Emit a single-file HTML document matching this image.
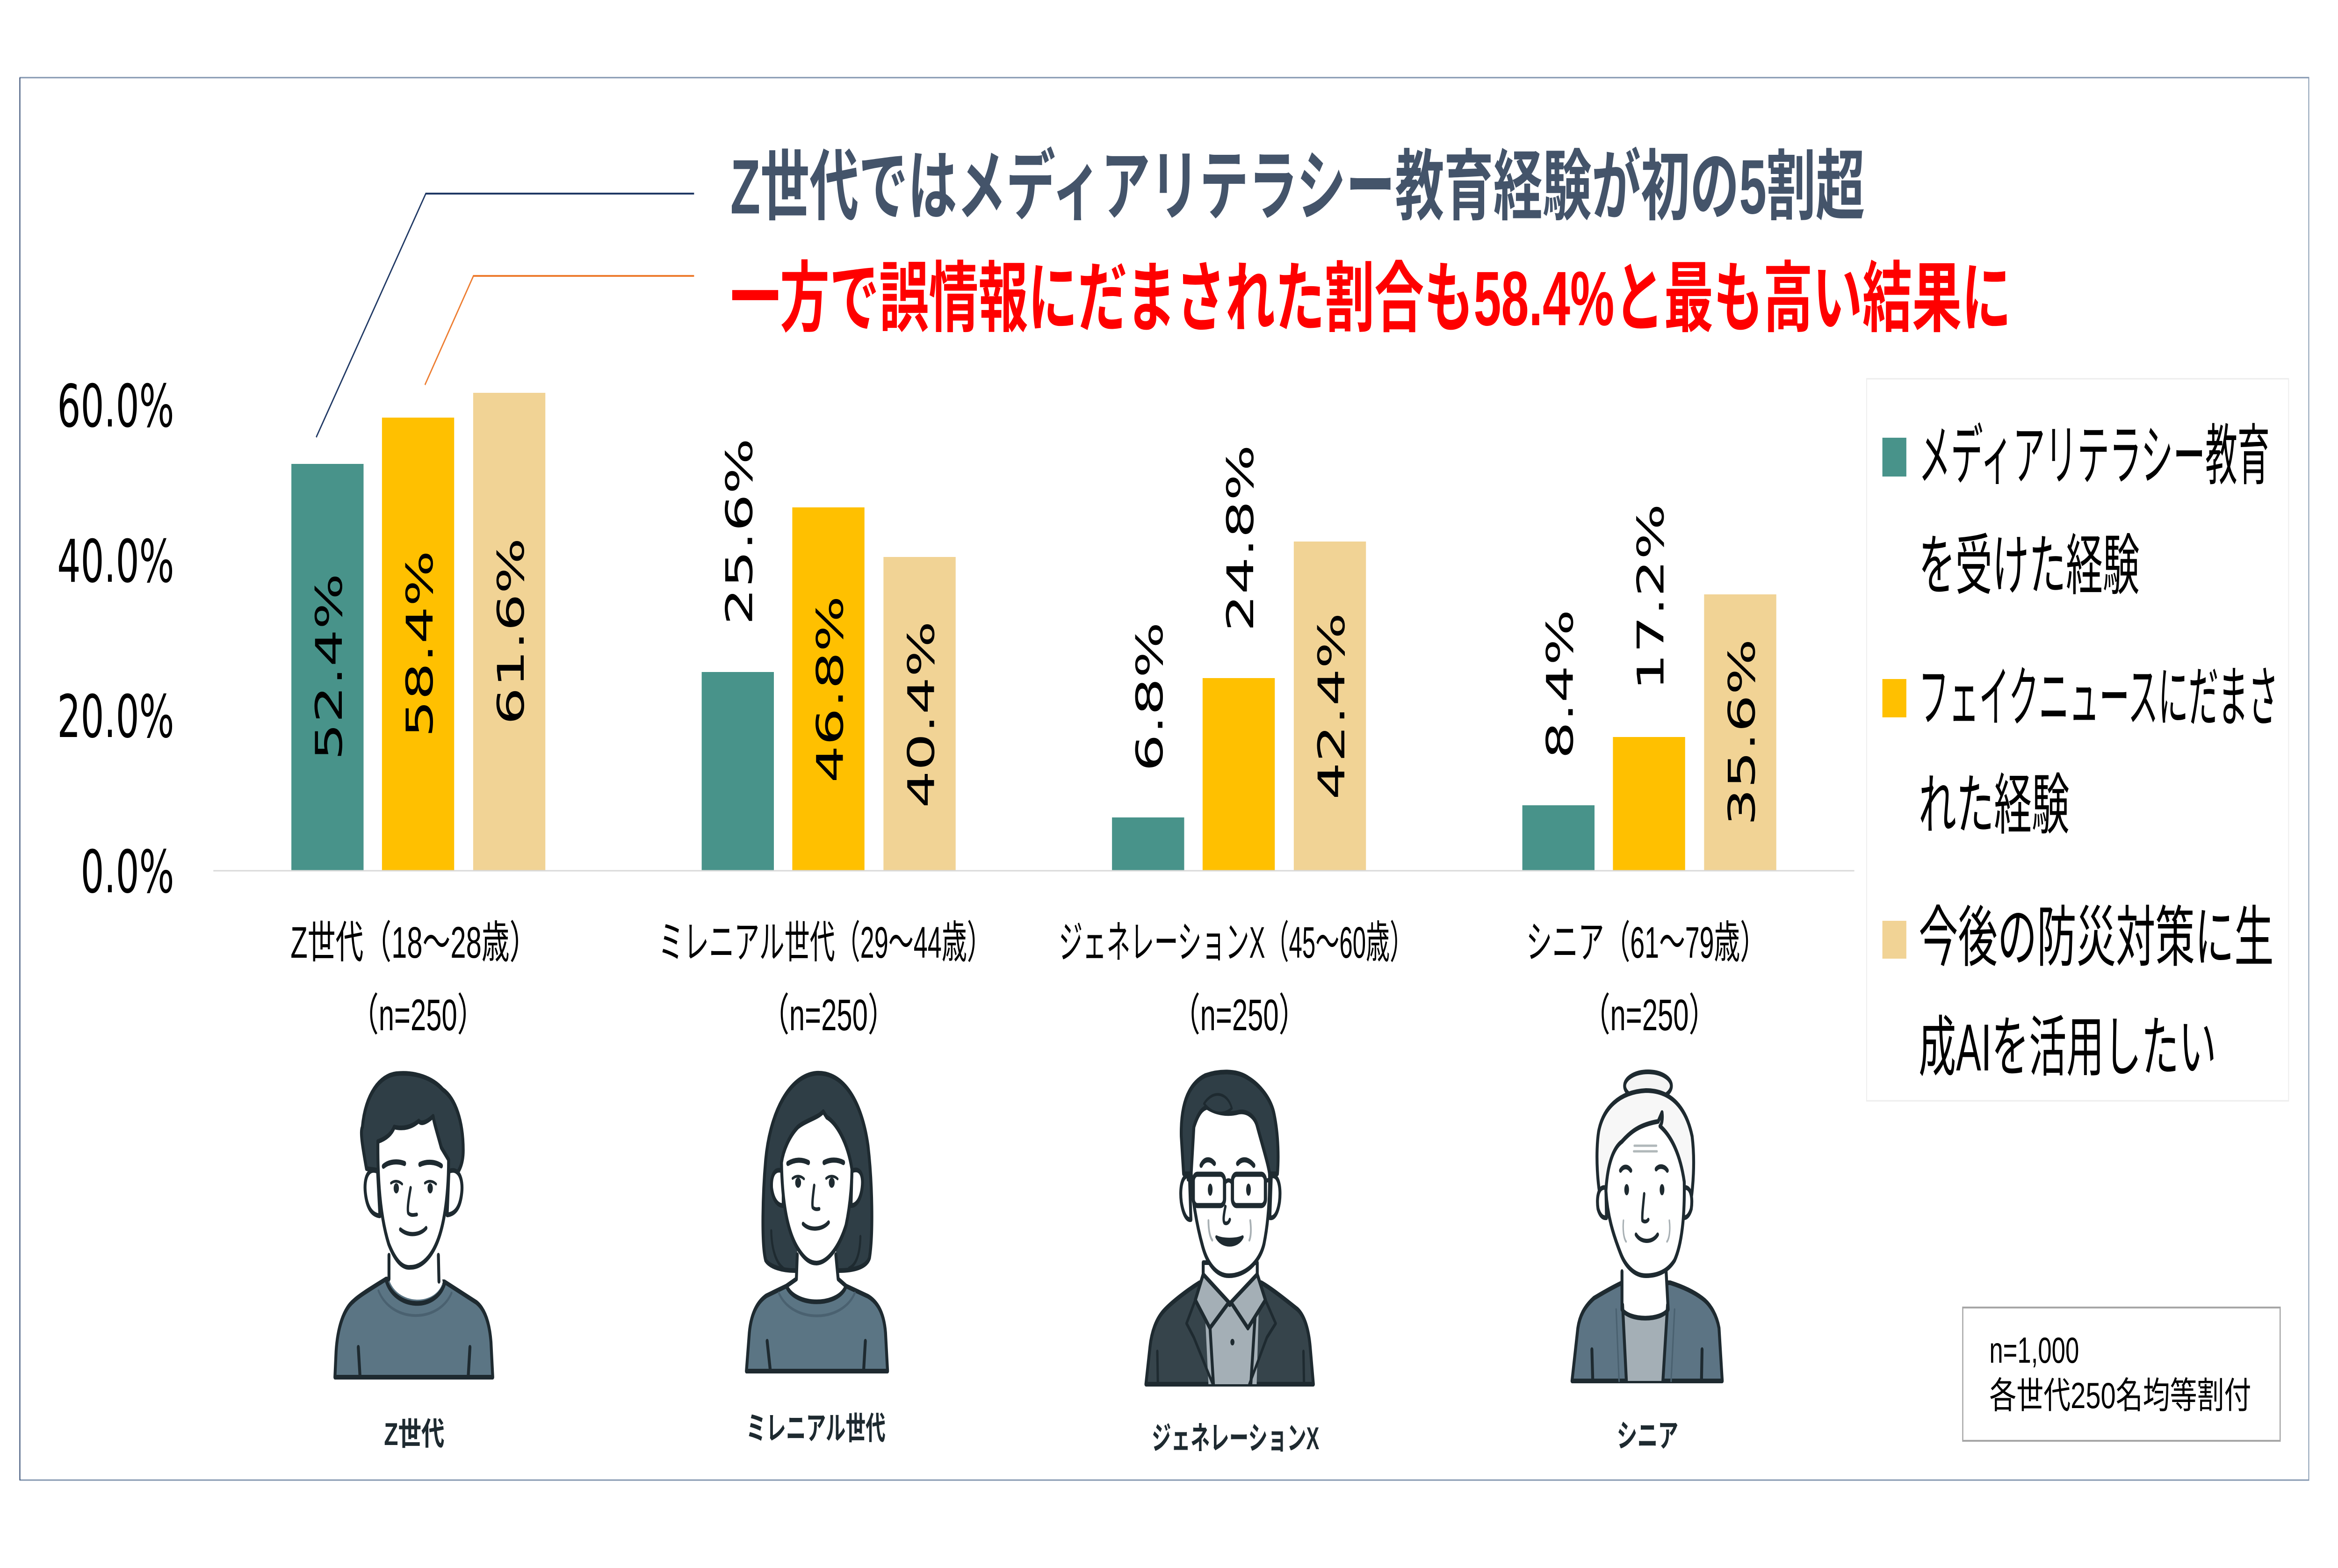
<!DOCTYPE html>
<html><head><meta charset="utf-8"><style>
html,body{margin:0;padding:0;background:#fff;width:100%;height:100%;overflow:hidden;}
svg{display:block;width:100vw;height:100vh;}
.jp{font-family:"Liberation Sans","Noto Sans CJK JP",sans-serif;}
.num{font-family:"DejaVu Sans","Liberation Sans",sans-serif;}
.ln{stroke:#1E2A30;stroke-width:10;stroke-linecap:round;stroke-linejoin:round;}
</style></head><body>
<svg viewBox="0 0 8000 3353" preserveAspectRatio="none" xmlns="http://www.w3.org/2000/svg">
<rect x="0" y="0" width="8000" height="3353" fill="#fff"/>
<!-- frame -->
<rect x="68" y="166" width="7832" height="2999" fill="none" stroke="#8497B0" stroke-width="3"/>
<line x1="68" y1="166" x2="68" y2="3165" stroke="#1F3864" stroke-width="3"/>

<!-- titles -->
<text class="jp" x="2499" y="400" font-size="165" font-weight="bold" fill="#44546A" dominant-baseline="central" textLength="3882" lengthAdjust="spacingAndGlyphs">Z世代ではメディアリテラシー教育経験が初の5割超</text>
<text class="jp" x="2499" y="639" font-size="165" font-weight="bold" fill="#FF0000" dominant-baseline="central" textLength="4383" lengthAdjust="spacingAndGlyphs">一方で誤情報にだまされた割合も58.4%と最も高い結果に</text>

<!-- leader lines -->
<polyline points="1082,935 1457,414 2375,414" fill="none" stroke="#1F3864" stroke-width="4"/>
<polyline points="1454,823 1620,590 2375,590" fill="none" stroke="#ED7D31" stroke-width="4"/>

<!-- y axis labels -->
<g class="num" font-size="126" fill="#000" text-anchor="end" dominant-baseline="central">
<text x="596" y="868">60.0%</text>
<text x="596" y="1200">40.0%</text>
<text x="596" y="1532">20.0%</text>
<text x="596" y="1864">0.0%</text>
</g>

<!-- bars -->
<g>
<rect x="997" y="992" width="247" height="869" fill="#48938A"/>
<rect x="1307" y="893" width="247" height="968" fill="#FFC000"/>
<rect x="1619" y="840" width="247" height="1021" fill="#F1D395"/>
<rect x="2401" y="1437" width="247" height="424" fill="#48938A"/>
<rect x="2711" y="1085" width="247" height="776" fill="#FFC000"/>
<rect x="3023" y="1191" width="247" height="670" fill="#F1D395"/>
<rect x="3805" y="1748" width="247" height="113" fill="#48938A"/>
<rect x="4115" y="1450" width="247" height="411" fill="#FFC000"/>
<rect x="4427" y="1158" width="247" height="703" fill="#F1D395"/>
<rect x="5209" y="1722" width="247" height="139" fill="#48938A"/>
<rect x="5519" y="1576" width="247" height="285" fill="#FFC000"/>
<rect x="5831" y="1271" width="247" height="590" fill="#F1D395"/>
</g>
<line x1="730" y1="1862" x2="6345" y2="1862" stroke="#D9D9D9" stroke-width="3"/>

<!-- value labels -->
<g class="num" font-size="126" fill="#000" dominant-baseline="central">
<text text-anchor="middle" transform="translate(1126,1426) rotate(-90)">52.4%</text>
<text text-anchor="middle" transform="translate(1436,1377) rotate(-90)">58.4%</text>
<text text-anchor="middle" transform="translate(1748,1350) rotate(-90)">61.6%</text>
<text text-anchor="start" transform="translate(2530,1337) rotate(-90)">25.6%</text>
<text text-anchor="middle" transform="translate(2840,1474) rotate(-90)">46.8%</text>
<text text-anchor="middle" transform="translate(3152,1528) rotate(-90)">40.4%</text>
<text text-anchor="start" transform="translate(3934,1650) rotate(-90)">6.8%</text>
<text text-anchor="start" transform="translate(4244,1351) rotate(-90)">24.8%</text>
<text text-anchor="middle" transform="translate(4556,1510) rotate(-90)">42.4%</text>
<text text-anchor="start" transform="translate(5338,1623) rotate(-90)">8.4%</text>
<text text-anchor="start" transform="translate(5648,1477) rotate(-90)">17.2%</text>
<text text-anchor="middle" transform="translate(5960,1566) rotate(-90)">35.6%</text>
</g>

<!-- category labels -->
<g class="jp" font-size="95" fill="#000" dominant-baseline="central">
<text x="994" y="2015" textLength="845" lengthAdjust="spacingAndGlyphs">Z世代（18～28歳）</text>
<text x="2253" y="2015" textLength="1142" lengthAdjust="spacingAndGlyphs">ミレニアル世代（29～44歳）</text>
<text x="3623" y="2015" textLength="1214" lengthAdjust="spacingAndGlyphs">ジェネレーションX（45～60歳）</text>
<text x="5222" y="2015" textLength="821" lengthAdjust="spacingAndGlyphs">シニア（61～79歳）</text>
<text x="1430" y="2170" text-anchor="middle" textLength="460" lengthAdjust="spacingAndGlyphs">（n=250）</text>
<text x="2835" y="2170" text-anchor="middle" textLength="460" lengthAdjust="spacingAndGlyphs">（n=250）</text>
<text x="4241" y="2170" text-anchor="middle" textLength="460" lengthAdjust="spacingAndGlyphs">（n=250）</text>
<text x="5644" y="2170" text-anchor="middle" textLength="460" lengthAdjust="spacingAndGlyphs">（n=250）</text>
</g>

<!-- legend -->
<rect x="6387" y="810" width="1444" height="1544" fill="#fff" stroke="#EDEDED" stroke-width="3"/>
<rect x="6441" y="936" width="82" height="83" fill="#48938A"/>
<rect x="6441" y="1452" width="82" height="82" fill="#FFC000"/>
<rect x="6441" y="1969" width="82" height="81" fill="#F1D395"/>
<g class="jp" font-size="142" fill="#000" dominant-baseline="central">
<text x="6565" y="976" textLength="1201" lengthAdjust="spacingAndGlyphs">メディアリテラシー教育</text>
<text x="6565" y="1211" textLength="756" lengthAdjust="spacingAndGlyphs">を受けた経験</text>
<text x="6565" y="1493" textLength="1231" lengthAdjust="spacingAndGlyphs">フェイクニュースにだまさ</text>
<text x="6565" y="1723" textLength="516" lengthAdjust="spacingAndGlyphs">れた経験</text>
<text x="6565" y="2006" textLength="1215" lengthAdjust="spacingAndGlyphs">今後の防災対策に生</text>
<text x="6565" y="2241" textLength="1019" lengthAdjust="spacingAndGlyphs">成AIを活用したい</text>
</g>

<!-- note box -->
<rect x="6716" y="2796" width="1086" height="285" fill="#fff" stroke="#A6A6A6" stroke-width="4"/>
<g class="jp" font-size="78" fill="#000" dominant-baseline="central">
<text x="6807" y="2887" textLength="307" lengthAdjust="spacingAndGlyphs">n=1,000</text>
<text x="6807" y="2984" textLength="896" lengthAdjust="spacingAndGlyphs">各世代250名均等割付</text>
</g>

<!-- Person 1: Z generation -->
<g class="ln">
<path d="M1321,2735 C1270,2755 1230,2770 1210,2782 C1175,2800 1155,2840 1150,2890 L1146,2945 L1686,2945 L1680,2870 C1675,2830 1660,2800 1630,2785 L1521,2741 Z" fill="#5B7584"/>
<path d="M1331,2680 L1331,2735 C1355,2790 1490,2795 1515,2742 L1500,2680 Z" fill="#fff" stroke="none"/>
<path d="M1295,2760 C1340,2830 1500,2830 1545,2765" fill="none" stroke="#4A6170" stroke-width="6"/>
<path d="M1321,2737 C1350,2800 1490,2805 1521,2745" fill="none"/>
<path d="M1331,2684 L1331,2735 M1500,2684 L1502,2740 M1226,2881 L1232,2945 M1608,2881 L1602,2945" fill="none"/>
<path d="M1254,2499 C1240,2450 1232,2420 1240,2410 C1250,2340 1300,2300 1356,2296 C1420,2292 1480,2305 1515,2330 C1560,2350 1585,2400 1585,2460 C1585,2490 1570,2510 1540,2524 Z" fill="#2F3E46"/>
<path d="M1292,2505 C1260,2495 1245,2520 1250,2550 C1255,2580 1270,2598 1300,2600 Z" fill="#fff"/>
<path d="M1536,2505 C1568,2495 1585,2520 1580,2550 C1575,2580 1560,2596 1530,2598 Z" fill="#fff"/>
<path d="M1293,2441 C1292,2520 1300,2600 1330,2660 C1355,2700 1380,2712 1405,2710 C1440,2710 1480,2690 1505,2640 C1525,2600 1535,2540 1535,2480 L1510,2454 C1495,2420 1485,2400 1482,2387 C1460,2400 1440,2405 1433,2397 C1410,2410 1380,2415 1349,2410 C1340,2425 1320,2435 1293,2441 Z" fill="#fff"/>
<path d="M1312,2494 C1330,2484 1360,2482 1384,2488 M1437,2490 C1460,2483 1490,2484 1510,2493" fill="none" stroke-width="11"/>
<ellipse cx="1356" cy="2541" rx="9" ry="11" fill="#1E2A30" stroke="none"/>
<ellipse cx="1472" cy="2541" rx="9" ry="11" fill="#1E2A30" stroke="none"/>
<path d="M1338,2530 C1350,2524 1365,2525 1376,2532 M1454,2530 C1466,2524 1481,2525 1492,2532" fill="none" stroke-width="6"/>
<path d="M1405,2540 C1398,2565 1393,2585 1397,2594 C1405,2600 1418,2598 1426,2597" fill="none" stroke-width="8"/>
<path d="M1370,2629 C1400,2645 1440,2640 1458,2626" fill="none" stroke-width="9"/>
</g>

<!-- Person 2: Millennial woman -->
<g class="ln">
<path d="M2720,2717 C2680,2717 2635,2710 2620,2695 C2605,2660 2610,2550 2620,2480 C2635,2380 2700,2300 2794,2295 C2890,2292 2950,2360 2970,2450 C2985,2530 2988,2640 2975,2690 C2965,2710 2920,2717 2869,2717 Z" fill="#2F3E46"/>
<path d="M2691,2750 L2622,2771 C2590,2785 2570,2810 2564,2850 L2554,2932 L3037,2932 L3030,2850 C3025,2810 3005,2785 2970,2772 L2895,2750 Z" fill="#5B7584"/>
<path d="M2728,2670 L2725,2735 L2691,2750 C2720,2795 2870,2795 2895,2750 L2868,2735 L2860,2670 Z" fill="#fff" stroke="none"/>
<path d="M2665,2765 C2710,2830 2880,2830 2925,2765" fill="none" stroke="#4A6170" stroke-width="6"/>
<path d="M2728,2683 L2725,2735 L2691,2750 M2860,2683 L2868,2735 L2895,2750 M2691,2750 C2720,2795 2870,2795 2895,2750 M2625,2868 L2636,2932 M2961,2868 L2955,2932" fill="none"/>
<path d="M2680,2505 C2650,2495 2638,2515 2640,2540 C2645,2565 2660,2578 2680,2578 Z" fill="#fff"/>
<path d="M2915,2504 C2945,2495 2955,2515 2950,2540 C2945,2565 2930,2578 2912,2578 Z" fill="#fff"/>
<path d="M2674,2486 C2676,2560 2690,2630 2730,2670 C2755,2695 2775,2701 2794,2701 C2830,2700 2870,2670 2895,2620 C2912,2570 2915,2520 2915,2500 C2900,2440 2860,2400 2829,2389 L2817,2377 C2800,2390 2760,2395 2730,2410 C2700,2430 2680,2460 2674,2486 Z" fill="#fff"/>
<path d="M2639,2632 C2640,2670 2655,2700 2680,2712 M2944,2644 C2943,2680 2930,2705 2905,2712" fill="none" stroke-width="7"/>
<path d="M2696,2488 C2720,2479 2745,2479 2766,2486 M2820,2486 C2840,2479 2866,2479 2886,2486" fill="none" stroke-width="11"/>
<ellipse cx="2731" cy="2529" rx="10" ry="11" fill="#1E2A30" stroke="none"/>
<ellipse cx="2846" cy="2529" rx="10" ry="11" fill="#1E2A30" stroke="none"/>
<path d="M2712,2520 C2724,2513 2740,2514 2751,2521 M2827,2520 C2839,2513 2855,2514 2866,2521" fill="none" stroke-width="6"/>
<path d="M2786,2535 C2782,2555 2778,2575 2781,2582 C2788,2587 2797,2586 2803,2585" fill="none" stroke-width="8"/>
<path d="M2748,2617 C2770,2632 2815,2630 2835,2614" fill="none" stroke-width="9"/>
</g>

<!-- Person 3: Gen X man -->
<g class="ln">
<path d="M4104,2743 C4060,2760 4010,2785 3987,2800 C3955,2820 3940,2850 3935,2880 L3921,2960 L4494,2960 L4483,2880 C4478,2845 4465,2815 4440,2800 C4400,2780 4350,2755 4316,2743 Z" fill="#36444B"/>
<path d="M4117,2730 L4135,2960 L4300,2960 L4310,2730 Z" fill="#A4AFB6" stroke="none"/>
<path d="M4131,2740 L4152,2960 M4302,2740 L4280,2960" fill="none"/>
<path d="M4117,2700 L4117,2740 L4208,2790 L4302,2740 L4302,2700 Z" fill="#fff"/>
<path d="M4117,2725 L4090,2780 L4140,2840 L4205,2785 Z" fill="#A4AFB6"/>
<path d="M4302,2725 L4330,2780 L4270,2840 L4212,2785 Z" fill="#A4AFB6"/>
<path d="M4090,2780 L4060,2830 L4085,2860 L4150,2960 M4330,2780 L4365,2830 L4335,2860 L4275,2960 M3960,2890 L3962,2960 M4460,2890 L4462,2960" fill="none" stroke-width="8"/>
<circle cx="4217" cy="2870" r="7" fill="#1E2A30" stroke="none"/>
<path d="M4042,2430 C4040,2370 4060,2320 4124,2300 C4170,2290 4230,2288 4270,2305 C4310,2320 4350,2350 4360,2384 C4375,2430 4375,2480 4371,2510 L4050,2510 Z" fill="#2F3E46"/>
<path d="M4070,2515 C4045,2510 4036,2540 4042,2570 C4048,2595 4060,2610 4075,2608 Z" fill="#fff"/>
<path d="M4350,2515 C4375,2510 4384,2540 4378,2570 C4372,2595 4360,2606 4345,2604 Z" fill="#fff"/>
<path d="M4076,2508 L4085,2410 C4100,2380 4115,2370 4130,2368 C4160,2380 4200,2385 4240,2378 C4270,2375 4295,2390 4302,2408 C4320,2450 4340,2490 4344,2510 C4345,2570 4338,2620 4325,2660 C4310,2700 4260,2728 4205,2728 C4160,2728 4130,2700 4115,2665 C4095,2620 4078,2560 4076,2508 Z" fill="#fff"/>
<path d="M4120,2360 C4150,2330 4200,2335 4215,2370 C4190,2385 4150,2385 4120,2360 Z" fill="#2F3E46" stroke-width="6"/>
<path d="M4110,2492 C4120,2478 4140,2476 4155,2488 M4235,2488 C4250,2476 4272,2478 4290,2492" fill="none" stroke-width="11"/>
<rect x="4083" y="2511" width="107" height="67" rx="14" fill="none" stroke-width="11"/>
<rect x="4217" y="2511" width="113" height="67" rx="14" fill="none" stroke-width="11"/>
<path d="M4190,2530 C4200,2522 4208,2522 4217,2530 M4083,2525 L4065,2522 M4330,2525 L4350,2522" fill="none" stroke-width="9"/>
<ellipse cx="4141" cy="2544" rx="8" ry="13" fill="#1E2A30" stroke="none"/>
<ellipse cx="4272" cy="2544" rx="8" ry="13" fill="#1E2A30" stroke="none"/>
<path d="M4193,2580 C4188,2595 4184,2610 4190,2615 C4198,2618 4205,2614 4208,2608" fill="none" stroke-width="8"/>
<path d="M4162,2645 C4180,2668 4235,2668 4252,2645 C4230,2652 4185,2652 4162,2645 Z" fill="#1E2A30" stroke-width="7"/>
<path d="M4135,2610 C4135,2630 4140,2645 4148,2652 M4278,2610 C4282,2630 4280,2645 4275,2652" fill="none" stroke="#A8B0B4" stroke-width="6"/>
</g>

<!-- Person 4: Senior woman -->
<g class="ln">
<path d="M5550,2743 C5510,2755 5470,2770 5454,2776 C5420,2795 5405,2815 5399,2840 L5379,2953 L5893,2953 L5882,2840 C5875,2815 5855,2790 5824,2776 C5790,2760 5750,2750 5715,2743 Z" fill="#5C7484"/>
<path d="M5552,2790 L5565,2953 L5690,2953 L5706,2790 Z" fill="#A4AFB6" stroke="none"/>
<path d="M5550,2715 L5550,2800 C5575,2825 5685,2825 5708,2800 L5701,2715 Z" fill="#fff" stroke="none"/>
<path d="M5550,2719 L5550,2800 M5701,2719 L5708,2800 M5550,2800 C5575,2825 5685,2825 5708,2800 M5552,2790 L5565,2953 M5706,2790 L5690,2953 M5447,2886 L5450,2953 M5824,2886 L5822,2953" fill="none"/>
<path d="M5530,2800 L5540,2953 M5730,2800 L5718,2953" fill="none" stroke="#4A6170" stroke-width="5"/>
<ellipse cx="5639" cy="2322" rx="80" ry="30" fill="#F4F4F4"/>
<path d="M5489,2594 C5462,2540 5460,2460 5470,2420 C5485,2370 5540,2335 5632,2332 C5720,2332 5770,2370 5790,2430 C5800,2480 5795,2540 5780,2590 Z" fill="#F7F7F7"/>
<path d="M5495,2540 C5470,2535 5462,2560 5468,2585 C5475,2600 5485,2605 5497,2604 Z" fill="#fff"/>
<path d="M5760,2540 C5785,2535 5793,2560 5787,2585 C5780,2600 5770,2605 5758,2604 Z" fill="#fff"/>
<path d="M5495,2547 C5500,2490 5520,2455 5550,2441 C5580,2420 5610,2405 5674,2398 L5687,2379 C5690,2395 5685,2405 5680,2408 C5720,2430 5750,2470 5763,2527 C5765,2600 5755,2660 5730,2695 C5705,2720 5670,2728 5632,2728 C5590,2728 5560,2705 5545,2680 C5520,2640 5500,2600 5495,2547 Z" fill="#fff"/>
<path d="M5592,2450 L5668,2450 M5590,2462 L5670,2462" fill="none" stroke="#B0B8BA" stroke-width="5"/>
<path d="M5545,2503 C5555,2493 5570,2493 5580,2503 M5667,2500 C5677,2492 5695,2493 5705,2503" fill="none" stroke-width="10"/>
<ellipse cx="5566" cy="2544" rx="8" ry="12" fill="#1E2A30" stroke="none"/>
<ellipse cx="5687" cy="2544" rx="8" ry="12" fill="#1E2A30" stroke="none"/>
<path d="M5626,2553 C5622,2580 5618,2600 5620,2610 C5628,2614 5636,2612 5640,2608" fill="none" stroke-width="8"/>
<path d="M5598,2640 C5615,2658 5655,2658 5672,2640" fill="none" stroke-width="9"/>
<path d="M5555,2610 C5552,2630 5556,2648 5564,2655 M5712,2610 C5716,2630 5712,2648 5704,2655" fill="none" stroke="#A8B0B4" stroke-width="5"/>
</g>

<!-- bottom labels -->
<g class="jp" font-size="68" font-weight="bold" fill="#1E2A30" dominant-baseline="central">
<text x="1314" y="3068" textLength="207" lengthAdjust="spacingAndGlyphs">Z世代</text>
<text x="2553" y="3056" textLength="477" lengthAdjust="spacingAndGlyphs">ミレニアル世代</text>
<text x="3941" y="3077" textLength="573" lengthAdjust="spacingAndGlyphs">ジェネレーションX</text>
<text x="5532" y="3072" textLength="211" lengthAdjust="spacingAndGlyphs">シニア</text>
</g>
</svg>
</body></html>
